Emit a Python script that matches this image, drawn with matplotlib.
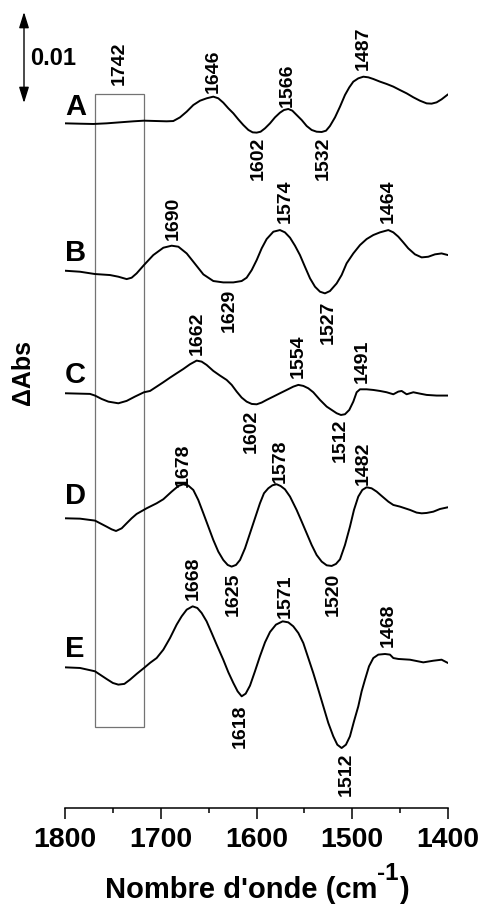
import matplotlib
matplotlib.use("Agg")
import matplotlib.pyplot as plt
from matplotlib.patches import Rectangle
from matplotlib.ticker import MultipleLocator

# difference spectra
# wavenumber (cm-1) and dAbs in units of 1e-3, relative to each trace's own baseline
wn_A = [1800, 1784.3, 1770.4, 1756.5, 1742.6, 1728.6, 1717.5, 1704.3, 1693.8, 1686.9, 1679.9,
        1672.9, 1666.0, 1659.0, 1652.1, 1645.1, 1639.9, 1634.7, 1629.4, 1624.2, 1619.0, 1613.8,
        1608.5, 1604.0, 1599.8, 1595.7, 1591.1, 1585.9, 1580.7, 1575.5, 1571.3, 1566.8, 1562.6,
        1558.1, 1552.8, 1547.6, 1542.4, 1537.2, 1531.9, 1527.4, 1523.3, 1518.0, 1512.8, 1507.6,
        1503.1, 1498.9, 1493.7, 1488.4, 1483.2, 1478.0, 1471.0, 1464.1, 1457.1, 1450.2, 1443.2,
        1436.2, 1429.3, 1422.3, 1417.1, 1411.9, 1406.7, 1400]
dA_A = [0.0, -0.04, -0.07, 0.0, 0.11, 0.22, 0.29, 0.25, 0.22, 0.25, 0.65,
        1.27, 1.99, 2.46, 2.72, 2.90, 2.72, 2.25, 1.63, 1.09, 0.43, -0.18,
        -0.72, -0.98, -1.01, -0.91, -0.54, 0.0, 0.65, 1.16, 1.45, 1.56, 1.38,
        0.91, 0.36, -0.29, -0.72, -0.91, -0.94, -0.80, -0.29, 0.65, 1.81, 3.08,
        3.91, 4.53, 4.89, 5.07, 5.00, 4.82, 4.53, 4.28, 3.99, 3.62, 3.26,
        2.83, 2.46, 2.17, 2.14, 2.28, 2.61, 3.15]

wn_B = [1800, 1784.3, 1768.7, 1753.0, 1744.3, 1735.6, 1730.4, 1725.2, 1717.5, 1707.8, 1697.3,
        1688.6, 1681.6, 1672.9, 1666.0, 1655.5, 1645.1, 1634.7, 1624.2, 1615.5, 1610.3, 1605.0,
        1599.8, 1594.6, 1589.4, 1582.4, 1575.5, 1570.3, 1565.0, 1559.8, 1554.6, 1549.4, 1544.1,
        1538.9, 1533.7, 1528.5, 1523.3, 1516.3, 1511.1, 1505.9, 1498.9, 1491.9, 1485.0, 1478.0,
        1471.0, 1462.3, 1457.1, 1451.9, 1446.7, 1441.5, 1434.5, 1427.5, 1420.6, 1413.6, 1406.7,
        1400]
dA_B = [0.0, -0.11, -0.36, -0.47, -0.65, -0.91, -0.76, -0.29, 0.62, 1.70, 2.50,
        2.72, 2.61, 1.88, 0.98, -0.40, -1.12, -1.27, -1.27, -1.12, -0.76, 0.07,
        1.16, 2.43, 3.44, 4.24, 4.42, 4.17, 3.59, 2.72, 1.70, 0.43, -0.83,
        -1.74, -2.28, -2.46, -2.21, -1.38, -0.47, 0.80, 1.88, 2.79, 3.44, 3.88,
        4.17, 4.42, 4.17, 3.70, 3.08, 2.43, 1.78, 1.45, 1.52, 1.78, 1.88,
        1.70]

wn_C = [1800, 1773.9, 1768.7, 1761.7, 1754.7, 1744.3, 1735.6, 1726.9, 1717.5, 1711.2, 1704.3,
        1697.3, 1690.3, 1683.4, 1676.4, 1669.5, 1662.5, 1657.3, 1652.1, 1645.1, 1638.1, 1631.2,
        1625.9, 1620.7, 1615.5, 1610.3, 1605.0, 1599.8, 1594.6, 1589.4, 1582.4, 1575.5, 1568.5,
        1561.6, 1556.3, 1551.1, 1545.9, 1540.7, 1533.7, 1526.7, 1521.5, 1516.3, 1511.8, 1507.6,
        1503.1, 1498.9, 1495.4, 1491.9, 1485.0, 1478.0, 1471.0, 1464.1, 1457.1, 1451.9, 1448.4,
        1443.2, 1436.2, 1429.3, 1422.3, 1411.9, 1400]
dA_C = [0.0, -0.07, -0.25, -0.62, -0.91, -1.09, -0.83, -0.36, 0.11, 0.25, 0.72,
        1.20, 1.70, 2.17, 2.64, 3.15, 3.55, 3.44, 3.08, 2.43, 1.92, 1.45,
        0.91, 0.18, -0.47, -0.91, -1.16, -1.20, -1.01, -0.72, -0.36, 0.0, 0.36,
        0.72, 0.91, 0.80, 0.54, 0.11, -0.72, -1.45, -1.81, -2.17, -2.36, -2.28,
        -1.81, -0.91, 0.11, 0.43, 0.43, 0.36, 0.25, 0.11, -0.11, 0.18, 0.25,
        -0.11, 0.11, -0.04, -0.18, -0.25, -0.25]

wn_D = [1800, 1784.3, 1768.7, 1756.5, 1751.3, 1746.7, 1740.8, 1735.6, 1730.4, 1725.2, 1714.7,
        1704.3, 1697.3, 1688.6, 1681.6, 1676.4, 1671.2, 1666.0, 1660.8, 1655.5, 1650.3, 1645.1,
        1639.9, 1634.7, 1630.1, 1626.0, 1621.4, 1617.2, 1612.0, 1606.8, 1601.6, 1596.4, 1592.2,
        1587.7, 1583.3, 1579.0, 1574.8, 1570.3, 1565.0, 1558.1, 1552.8, 1547.6, 1542.4, 1537.2,
        1531.9, 1526.7, 1521.5, 1517.0, 1512.8, 1507.6, 1502.4, 1498.2, 1493.7, 1489.5, 1485.0,
        1479.8, 1474.5, 1469.3, 1462.3, 1457.1, 1450.2, 1439.7, 1432.8, 1427.5, 1422.3, 1415.3,
        1408.4, 1400]
dA_D = [0.0, -0.04, -0.25, -0.91, -1.20, -1.38, -1.09, -0.54, 0.0, 0.47, 1.09,
        1.63, 2.07, 2.90, 3.51, 3.70, 3.55, 3.08, 1.99, 0.54, -0.91, -2.36,
        -3.62, -4.53, -5.07, -5.25, -5.07, -4.53, -3.26, -1.63, 0.0, 1.63, 2.72,
        3.26, 3.59, 3.70, 3.51, 3.15, 2.36, 0.91, -0.36, -1.63, -2.90, -3.99,
        -4.71, -5.11, -5.18, -4.96, -4.46, -2.90, -0.91, 0.91, 2.36, 3.08, 3.37,
        3.26, 2.90, 2.43, 1.81, 1.45, 1.27, 0.91, 0.62, 0.54, 0.58, 0.72,
        1.01, 1.20]

wn_E = [1800, 1784.3, 1768.7, 1756.5, 1750.0, 1744.3, 1738.0, 1732.1, 1725.0, 1717.5, 1711.0,
        1704.3, 1697.3, 1690.3, 1683.4, 1678.2, 1672.9, 1666.7, 1661.8, 1657.3, 1652.1, 1646.8,
        1641.6, 1634.7, 1629.4, 1624.2, 1619.7, 1615.5, 1611.3, 1606.8, 1601.6, 1596.4, 1591.1,
        1585.9, 1579.7, 1572.7, 1566.8, 1561.6, 1556.3, 1551.1, 1545.9, 1540.7, 1535.4, 1530.2,
        1525.0, 1519.8, 1515.6, 1511.1, 1506.6, 1502.4, 1498.2, 1493.7, 1490.2, 1486.7, 1482.5,
        1478.0, 1472.8, 1465.8, 1460.6, 1457.1, 1451.9, 1439.7, 1425.8, 1415.3, 1406.7, 1400]
dA_E = [0.0, -0.07, -0.43, -1.27, -1.70, -1.88, -1.80, -1.34, -0.70, -0.07, 0.50,
        1.01, 1.92, 3.19, 4.64, 5.54, 6.27, 6.63, 6.45, 5.91, 5.00, 3.73,
        2.46, 0.83, -0.54, -1.70, -2.61, -3.15, -2.86, -1.99, -0.43, 1.20, 2.72,
        3.84, 4.64, 5.00, 4.89, 4.46, 3.73, 2.64, 1.01, -0.62, -2.43, -4.24,
        -6.05, -7.50, -8.41, -8.77, -8.41, -7.50, -5.87, -4.24, -2.61, -1.34, 0.11,
        1.01, 1.38, 1.45, 1.38, 1.01, 0.91, 0.83, 0.54, 0.72, 0.83, 0.47]

names = ["A", "B", "C", "D", "E"]
wns = [wn_A, wn_B, wn_C, wn_D, wn_E]
dAs = [dA_A, dA_B, dA_C, dA_D, dA_E]
offsets = [74.42, 58.40, 45.08, 31.49, 15.29]
letter_dy = [0.9, 1.1, 1.1, 1.6, 1.15]

# band labels: text, wavenumber, y, vertical alignment
bands = [
    ("1742", 1743, 78.59, "bottom"), ("1646", 1645, 77.68, "bottom"),
    ("1566", 1568, 76.23, "bottom"), ("1487", 1488, 80.22, "bottom"),
    ("1602", 1598, 72.93, "top"), ("1532", 1530, 72.93, "top"),
    ("1690", 1687, 61.74, "bottom"), ("1574", 1570, 63.62, "bottom"),
    ("1464", 1462, 63.62, "bottom"), ("1629", 1628, 56.49, "top"),
    ("1527", 1525, 55.14, "top"),
    ("1662", 1662, 49.24, "bottom"), ("1554", 1556, 46.71, "bottom"),
    ("1491", 1490, 46.16, "bottom"), ("1602", 1606, 43.26, "top"),
    ("1512", 1513, 42.36, "top"),
    ("1678", 1676, 34.92, "bottom"), ("1578", 1575, 35.29, "bottom"),
    ("1482", 1488, 35.11, "bottom"), ("1625", 1624, 25.58, "top"),
    ("1520", 1520, 25.58, "top"),
    ("1668", 1666, 22.61, "bottom"), ("1571", 1570, 20.62, "bottom"),
    ("1468", 1462, 17.53, "bottom"), ("1618", 1617, 11.20, "top"),
    ("1512", 1506, 5.98, "top"),
]

plt.rcParams['font.family'] = ['Liberation Sans', 'DejaVu Sans']
plt.rcParams['font.weight'] = 'bold'

fig = plt.figure(figsize=(4.85, 9.08), dpi=100)
ax = fig.add_axes([65/485, 1 - 808/908, 383/485, 808/908])

for name, wn, dA, off, ldy in zip(names, wns, dAs, offsets, letter_dy):
    ax.plot(wn, [off + v for v in dA], color='black', lw=1.4,
            solid_joinstyle='round', solid_capstyle='round')
    ax.text(1800, off + ldy, name, fontsize=21, fontweight='bold',
            ha='left', va='baseline')

for txt, x, y, va in bands:
    ax.text(x, y, txt, rotation=90, fontsize=14, fontweight='bold',
            ha='center', va=va)

# marked region around 1742
ax.add_patch(Rectangle((1717.5, 8.84), 51.2, 68.74, fill=False,
                       edgecolor='0.45', lw=0.9))

ax.set_xlim(1800, 1400)
ax.set_ylim(0, 808/9.2)
ax.xaxis.set_major_locator(MultipleLocator(100))
ax.xaxis.set_minor_locator(MultipleLocator(50))
ax.tick_params(axis='x', which='major', length=7.7, width=1.1, labelsize=20.5, pad=6)
ax.tick_params(axis='x', which='minor', length=3.8, width=1.1)
ax.yaxis.set_visible(False)
for s in ['left', 'right', 'top']:
    ax.spines[s].set_visible(False)
ax.spines['bottom'].set_linewidth(1.1)
for lab in ax.get_xticklabels():
    lab.set_fontweight('bold')

# x label with a plain hyphen in the superscript, laid out piece by piece
fig.canvas.draw()
rend = fig.canvas.get_renderer()
parts = [("Nombre d'onde (cm", 21, 0.0), ("-1", 17.5, 18.0), (")", 21, 0.0)]
texts = []
for s, fs, rise in parts:
    t = fig.text(0, 0, s, fontsize=fs, fontweight='bold', ha='left', va='baseline')
    texts.append((t, rise))
widths = [t.get_window_extent(rend).width for t, _ in texts]
x0 = 256.7 - sum(widths) / 2
for (t, rise), w in zip(texts, widths):
    t.set_position((x0 / 485, (908 - 898 + rise) / 908))
    x0 += w

# scale bar
ax.annotate('', xy=(24/485, 1 - 12/908), xytext=(24/485, 1 - 103/908),
            xycoords='figure fraction', textcoords='figure fraction',
            arrowprops=dict(arrowstyle='<|-|>,head_length=0.8,head_width=0.25',
                            mutation_scale=12, color='black', lw=1.0,
                            shrinkA=0, shrinkB=0))
fig.text(30/485, 1 - 65/908, "0.01", fontsize=17, fontweight='bold',
         ha='left', va='baseline')
fig.text(23/485, 1 - 372.5/908, "\u0394Abs", fontsize=18, fontweight='bold',
         rotation=90, ha='center', va='center')

fig.savefig("out.png", dpi=100)
